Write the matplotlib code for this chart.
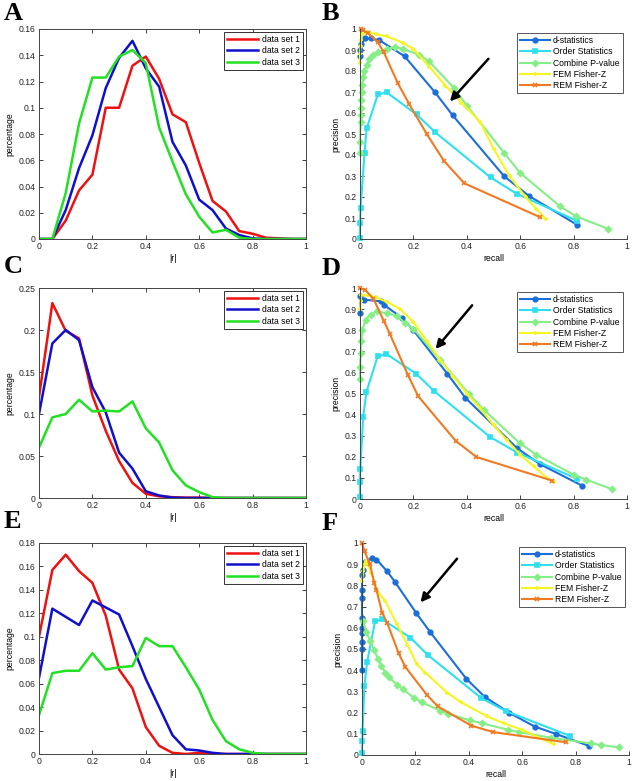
import numpy as np
import matplotlib.pyplot as plt
from matplotlib.ticker import FuncFormatter

plt.rcParams['font.family'] = ['Liberation Sans', 'DejaVu Sans']

# |r| bins shared by the three histogram panels
r_bins = [0, 0.05, 0.1, 0.15, 0.2, 0.25, 0.3, 0.35, 0.4, 0.45, 0.5,
          0.55, 0.6, 0.65, 0.7, 0.75, 0.8, 0.85, 0.9, 0.95, 1.0]
hist_names = ['data set 1', 'data set 2', 'data set 3']

a_set1 = [0, 0, 0.014, 0.037, 0.049, 0.100, 0.100, 0.132, 0.139, 0.122, 0.095,
          0.089, 0.058, 0.029, 0.021, 0.006, 0.004, 0.001, 0.0005, 0, 0]
a_set2 = [0, 0, 0.022, 0.054, 0.079, 0.115, 0.138, 0.151, 0.130, 0.116, 0.074,
          0.056, 0.030, 0.022, 0.008, 0.003, 0.0005, 0, 0, 0, 0]
a_set3 = [0, 0, 0.035, 0.088, 0.123, 0.123, 0.139, 0.144, 0.134, 0.085, 0.059,
          0.034, 0.017, 0.005, 0.007, 0.001, 0, 0, 0, 0, 0]

c_set1 = [0.120, 0.232, 0.199, 0.190, 0.122, 0.080, 0.044, 0.018, 0.005, 0.002,
          0.001, 0.0005, 0.0005, 0, 0, 0, 0, 0, 0, 0, 0]
c_set2 = [0.100, 0.184, 0.200, 0.188, 0.132, 0.102, 0.054, 0.035, 0.008, 0.003,
          0.0005, 0, 0, 0, 0, 0, 0, 0, 0, 0, 0]
c_set3 = [0.060, 0.096, 0.100, 0.117, 0.103, 0.104, 0.103, 0.115, 0.083, 0.066,
          0.033, 0.015, 0.007, 0.001, 0, 0, 0, 0, 0, 0, 0]

e_set1 = [0.100, 0.157, 0.170, 0.156, 0.146, 0.118, 0.072, 0.056, 0.023, 0.007,
          0.001, 0, 0.001, 0, 0, 0, 0, 0, 0, 0, 0]
e_set2 = [0.065, 0.124, 0.117, 0.110, 0.131, 0.125, 0.119, 0.092, 0.064, 0.040,
          0.016, 0.004, 0.003, 0.001, 0, 0, 0, 0, 0, 0, 0]
e_set3 = [0.033, 0.069, 0.071, 0.071, 0.086, 0.072, 0.074, 0.075, 0.099, 0.092,
          0.092, 0.074, 0.055, 0.029, 0.011, 0.004, 0.001, 0, 0, 0, 0]

# precision-recall curves, (recall, precision) pairs
pr_names = ['d-statistics', 'Order Statistics', 'Combine P-value',
            'FEM Fisher-Z', 'REM Fisher-Z']

b_dstat = [(0, 0.87), (0, 0.90), (0.005, 0.93), (0.02, 0.955), (0.04, 0.955),
           (0.072, 0.947), (0.167, 0.87), (0.28, 0.70), (0.347, 0.589),
           (0.539, 0.30), (0.633, 0.205), (0.814, 0.067)]
b_order = [(0, 0.006), (0, 0.074), (0.002, 0.146), (0.017, 0.411), (0.025, 0.527),
           (0.067, 0.689), (0.10, 0.698), (0.212, 0.593), (0.282, 0.508),
           (0.489, 0.293), (0.589, 0.214), (0.814, 0.086)]
b_combp = [(0, 0.408), (0, 0.46), (0.002, 0.559), (0.003, 0.59), (0.004, 0.625),
           (0.005, 0.662), (0.006, 0.70), (0.008, 0.735), (0.011, 0.77),
           (0.016, 0.80), (0.025, 0.83), (0.035, 0.855), (0.05, 0.876),
           (0.067, 0.89), (0.10, 0.905), (0.132, 0.915), (0.16, 0.905),
           (0.22, 0.878), (0.259, 0.846), (0.352, 0.719), (0.402, 0.632),
           (0.54, 0.41), (0.60, 0.314), (0.749, 0.156), (0.809, 0.108),
           (0.93, 0.048)]
b_fem = [(0, 0.84), (0, 0.88), (0.002, 0.92), (0.004, 0.95), (0.006, 0.97),
         (0.01, 0.98), (0.03, 0.985), (0.06, 0.975), (0.10, 0.965),
         (0.16, 0.935), (0.20, 0.905), (0.26, 0.82), (0.32, 0.73),
         (0.38, 0.65), (0.45, 0.558), (0.50, 0.43), (0.56, 0.30),
         (0.62, 0.20), (0.66, 0.145), (0.695, 0.095)]
b_rem = [(0.003, 1.0), (0.01, 0.995), (0.03, 0.98), (0.067, 0.936), (0.089, 0.89),
         (0.142, 0.741), (0.185, 0.641), (0.25, 0.50), (0.315, 0.371),
         (0.391, 0.265), (0.676, 0.103)]

d_dstat = [(0, 0.88), (0, 0.96), (0.015, 0.945), (0.077, 0.937), (0.09, 0.92),
           (0.158, 0.857), (0.20, 0.80), (0.327, 0.594), (0.395, 0.479),
           (0.589, 0.24), (0.673, 0.166), (0.832, 0.063)]
d_order = [(0, 0.008), (0, 0.079), (0.001, 0.142), (0.012, 0.39), (0.024, 0.507),
           (0.066, 0.676), (0.099, 0.687), (0.21, 0.594), (0.279, 0.51),
           (0.486, 0.295), (0.589, 0.22), (0.812, 0.096)]
d_combp = [(0, 0.569), (0, 0.626), (0.003, 0.69), (0.005, 0.747), (0.009, 0.80),
           (0.021, 0.85), (0.04, 0.874), (0.065, 0.889), (0.10, 0.88),
           (0.14, 0.866), (0.168, 0.834), (0.20, 0.807), (0.30, 0.66),
           (0.408, 0.498), (0.464, 0.423), (0.598, 0.265), (0.66, 0.21),
           (0.80, 0.115), (0.847, 0.092), (0.943, 0.047)]
d_fem = [(0, 0.90), (0.002, 0.94), (0.005, 0.965), (0.03, 0.965), (0.06, 0.955),
         (0.10, 0.935), (0.15, 0.90), (0.20, 0.84), (0.25, 0.75), (0.30, 0.66),
         (0.35, 0.58), (0.40, 0.50), (0.45, 0.43), (0.50, 0.35), (0.55, 0.28),
         (0.60, 0.21), (0.65, 0.155), (0.70, 0.10), (0.726, 0.079)]
d_rem = [(0, 1.0), (0.02, 0.99), (0.05, 0.95), (0.09, 0.842), (0.112, 0.782),
         (0.18, 0.586), (0.218, 0.487), (0.358, 0.276), (0.436, 0.199),
         (0.72, 0.087)]

f_dstat = [(0, 0.40), (0, 0.50), (0, 0.535), (0, 0.574), (0, 0.60), (0, 0.646),
           (0, 0.739), (0, 0.778), (0, 0.847), (0.002, 0.875), (0.01, 0.91),
           (0.0375, 0.929), (0.054, 0.922), (0.094, 0.867), (0.1225, 0.818),
           (0.204, 0.668), (0.254, 0.582), (0.391, 0.359), (0.46, 0.274),
           (0.55, 0.20), (0.647, 0.134), (0.725, 0.10), (0.85, 0.043)]
f_order = [(0, 0.008), (0.001, 0.068), (0.002, 0.114), (0.009, 0.324),
           (0.019, 0.438), (0.049, 0.63), (0.074, 0.641), (0.181, 0.554),
           (0.246, 0.472), (0.446, 0.269), (0.541, 0.206), (0.779, 0.09)]
f_combp = [(0.005, 0.63), (0.016, 0.578), (0.031, 0.538), (0.045, 0.495),
           (0.06, 0.454), (0.0725, 0.422), (0.0875, 0.388), (0.10, 0.367),
           (0.131, 0.332), (0.154, 0.309), (0.196, 0.269), (0.225, 0.248),
           (0.294, 0.209), (0.321, 0.195), (0.406, 0.163), (0.448, 0.15),
           (0.548, 0.119), (0.588, 0.108), (0.706, 0.082), (0.856, 0.055),
           (0.894, 0.047), (0.9625, 0.036)]
f_fem = [(0, 0.82), (0.005, 0.87), (0.01, 0.90), (0.015, 0.915), (0.035, 0.86),
         (0.056, 0.775), (0.0875, 0.725), (0.131, 0.617), (0.17, 0.52),
         (0.206, 0.427), (0.2375, 0.388), (0.32, 0.293), (0.369, 0.25),
         (0.469, 0.182), (0.53, 0.15), (0.60, 0.119), (0.719, 0.05)]
f_rem = [(0, 1.0), (0.01, 0.96), (0.03, 0.90), (0.046, 0.81), (0.054, 0.78),
         (0.075, 0.672), (0.094, 0.625), (0.1375, 0.479), (0.1625, 0.415),
         (0.244, 0.282), (0.284, 0.229), (0.409, 0.139), (0.491, 0.108),
         (0.764, 0.06)]

# arrows (tail recall, tail precision, head recall, head precision)
b_arrow = (0.481, 0.858, 0.337, 0.655)
d_arrow = (0.42, 0.918, 0.283, 0.711)
f_arrow = (0.356, 0.926, 0.219, 0.72)

hist_colors = ['#ee1111', '#1010cc', '#22e022']
pr_colors = ['#1c6fd8', '#2ee0ee', '#86ee86', '#f5f520', '#f07a22']
pr_markers = ['o', 's', 'D', '+', 'x']

W, H = 634, 781
fig = plt.figure(figsize=(W / 100, H / 100), dpi=100)


def box(l, t, r, b):
    return [l / W, 1 - b / H, (r - l) / W, (b - t) / H]


def fmt(v, pos):
    return '%g' % round(v, 4)


def style_axes(ax):
    ax.tick_params(direction='in', labelsize=6.2, length=3, width=0.6,
                   colors='#222222', pad=2.5)
    ax.xaxis.set_major_formatter(FuncFormatter(fmt))
    ax.yaxis.set_major_formatter(FuncFormatter(fmt))
    for s in ax.spines.values():
        s.set_linewidth(0.7)
        s.set_color('#444444')


def hist_panel(rect, sets, ymax, ystep):
    ax = fig.add_axes(rect)
    for ys, c, n in zip(sets, hist_colors, hist_names):
        ax.plot(r_bins, ys, color=c, lw=1.8, label=n)
    ax.set_xlim(0, 1)
    ax.set_ylim(0, ymax)
    ax.set_xticks([0, 0.2, 0.4, 0.6, 0.8, 1])
    ax.set_yticks(np.arange(0, ymax + 1e-9, ystep))
    style_axes(ax)
    ax.tick_params(top=True, right=True)
    ax.set_xlabel('|r|', fontsize=6.2, labelpad=2)
    ax.set_ylabel('percentage', fontsize=6.2, labelpad=3)
    leg = ax.legend(loc='upper right', fontsize=6.2, fancybox=False,
                    framealpha=1, edgecolor='#333333', handlelength=3.6,
                    borderaxespad=0.3, labelspacing=0.3, borderpad=0.35,
                    handletextpad=0.5)
    leg.get_frame().set_linewidth(0.7)
    return ax


def pr_panel(rect, series, arrow):
    ax = fig.add_axes(rect)
    for pts, c, m, n in zip(series, pr_colors, pr_markers, pr_names):
        rx, py = zip(*pts)
        ms = 3.3 if m in 'os' else 3.0
        ax.plot(rx, py, color=c, lw=1.5, marker=m, ms=ms, mew=1.2,
                mfc=c, mec=c, label=n, clip_on=False)
    ax.set_xlim(0, 1)
    ax.set_ylim(0, 1)
    ax.set_xticks([0, 0.2, 0.4, 0.6, 0.8, 1])
    ax.set_yticks(np.arange(0, 1.0001, 0.1))
    style_axes(ax)
    ax.spines['top'].set_visible(False)
    ax.spines['right'].set_visible(False)
    ax.set_xlabel('recall', fontsize=6.2, labelpad=2)
    ax.set_ylabel('precision', fontsize=6.2, labelpad=3)
    leg = ax.legend(loc='upper right', fontsize=6.2, fancybox=False,
                    framealpha=1, edgecolor='#555555', handlelength=3.4,
                    borderaxespad=0.5, labelspacing=0.25, borderpad=0.35,
                    handletextpad=0.4, bbox_to_anchor=(1.0, 1.0))
    leg.get_frame().set_linewidth(0.7)
    ax.annotate('', xy=arrow[2:], xytext=arrow[:2],
                arrowprops=dict(arrowstyle='-|>', color='black', lw=1.8,
                                mutation_scale=13, shrinkA=0, shrinkB=0))
    return ax


hist_panel(box(39, 29, 306, 239), [a_set1, a_set2, a_set3], 0.16, 0.02)
hist_panel(box(39, 288, 306, 498), [c_set1, c_set2, c_set3], 0.25, 0.05)
hist_panel(box(39, 543, 306, 754), [e_set1, e_set2, e_set3], 0.18, 0.02)

pr_panel(box(360, 29, 627, 239), [b_dstat, b_order, b_combp, b_fem, b_rem], b_arrow)
pr_panel(box(360, 288, 627, 499), [d_dstat, d_order, d_combp, d_fem, d_rem], d_arrow)
pr_panel(box(362, 543, 629, 755), [f_dstat, f_order, f_combp, f_fem, f_rem], f_arrow)

letters = [('A', 4, 2), ('B', 322, 2), ('C', 4, 255), ('D', 322, 257),
           ('E', 4, 510), ('F', 322, 512)]
for ch, px, py in letters:
    fig.text(px / W, 1 - py / H, ch, fontsize=19, fontweight='bold',
             family='Liberation Serif', va='top', ha='left')

fig.savefig('out.png', dpi=100)
